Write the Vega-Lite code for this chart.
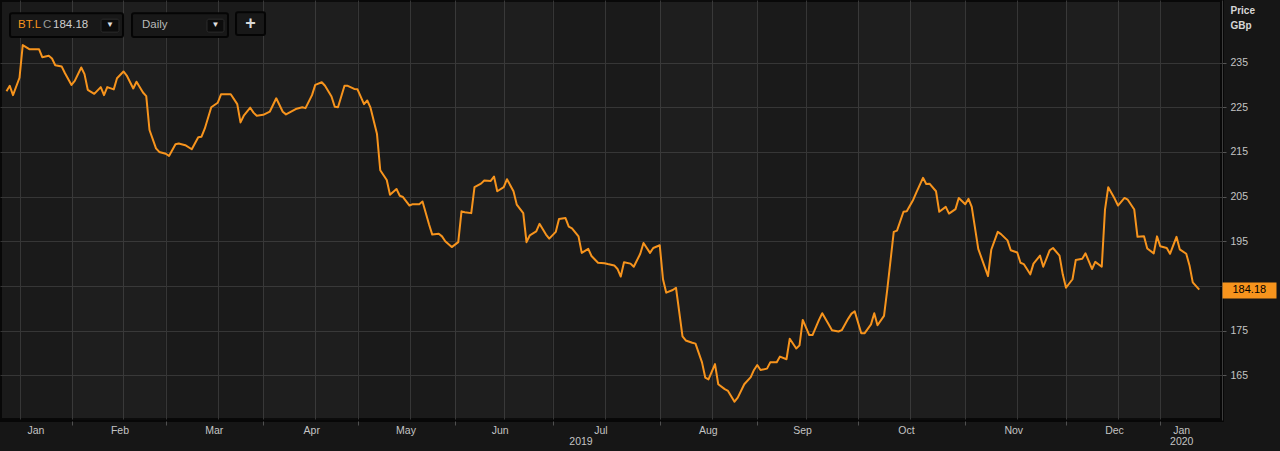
{
  "$schema": "https://vega.github.io/schema/vega-lite/v6.json",
  "width": 1280,
  "height": 451,
  "autosize": {"type": "fit", "contains": "padding"},
  "padding": {"left": 0, "top": 0, "bottom": 0, "right": -4},
  "background": "#161616",
  "config": {
    "view": {"fill": "#1a1a1a", "stroke": "#080808", "strokeWidth": 4},
    "font": "Liberation Sans"
  },
  "datasets": {
    "prices": [
      {"date": "2019-01-12", "close": 228.6}, {"date": "2019-01-13", "close": 229.8}, {"date": "2019-01-14", "close": 227.7},
      {"date": "2019-01-16", "close": 231.6}, {"date": "2019-01-17", "close": 238.9}, {"date": "2019-01-19", "close": 238.0},
      {"date": "2019-01-20", "close": 238.0}, {"date": "2019-01-22", "close": 238.0}, {"date": "2019-01-23", "close": 236.2},
      {"date": "2019-01-25", "close": 236.5}, {"date": "2019-01-26", "close": 235.9}, {"date": "2019-01-27", "close": 234.4},
      {"date": "2019-01-29", "close": 234.1}, {"date": "2019-01-30", "close": 232.6}, {"date": "2019-02-01", "close": 230.0},
      {"date": "2019-02-02", "close": 230.9}, {"date": "2019-02-04", "close": 233.9}, {"date": "2019-02-05", "close": 232.4},
      {"date": "2019-02-06", "close": 228.9}, {"date": "2019-02-08", "close": 228.0}, {"date": "2019-02-10", "close": 229.5},
      {"date": "2019-02-11", "close": 227.7}, {"date": "2019-02-12", "close": 229.5}, {"date": "2019-02-14", "close": 229.0},
      {"date": "2019-02-15", "close": 231.5}, {"date": "2019-02-17", "close": 233.0}, {"date": "2019-02-18", "close": 232.1},
      {"date": "2019-02-20", "close": 229.2}, {"date": "2019-02-21", "close": 230.7}, {"date": "2019-02-23", "close": 228.3},
      {"date": "2019-02-24", "close": 227.5}, {"date": "2019-02-25", "close": 219.9}, {"date": "2019-02-27", "close": 215.8},
      {"date": "2019-02-28", "close": 215.0}, {"date": "2019-03-02", "close": 214.6}, {"date": "2019-03-03", "close": 214.1},
      {"date": "2019-03-05", "close": 216.7}, {"date": "2019-03-06", "close": 216.9}, {"date": "2019-03-08", "close": 216.5},
      {"date": "2019-03-10", "close": 215.6}, {"date": "2019-03-12", "close": 218.3}, {"date": "2019-03-13", "close": 218.4},
      {"date": "2019-03-14", "close": 220.2}, {"date": "2019-03-16", "close": 225.0}, {"date": "2019-03-18", "close": 226.0},
      {"date": "2019-03-19", "close": 227.9}, {"date": "2019-03-20", "close": 227.9}, {"date": "2019-03-22", "close": 227.9},
      {"date": "2019-03-24", "close": 225.7}, {"date": "2019-03-25", "close": 221.6}, {"date": "2019-03-26", "close": 223.1},
      {"date": "2019-03-28", "close": 224.9}, {"date": "2019-03-29", "close": 223.8}, {"date": "2019-03-30", "close": 223.1},
      {"date": "2019-04-01", "close": 223.3}, {"date": "2019-04-03", "close": 224.0}, {"date": "2019-04-04", "close": 225.5},
      {"date": "2019-04-05", "close": 227.0}, {"date": "2019-04-07", "close": 224.0}, {"date": "2019-04-08", "close": 223.4},
      {"date": "2019-04-10", "close": 224.2}, {"date": "2019-04-11", "close": 224.6}, {"date": "2019-04-13", "close": 225.0},
      {"date": "2019-04-14", "close": 224.8}, {"date": "2019-04-16", "close": 227.7}, {"date": "2019-04-17", "close": 230.0},
      {"date": "2019-04-19", "close": 230.6}, {"date": "2019-04-20", "close": 229.8}, {"date": "2019-04-22", "close": 227.4},
      {"date": "2019-04-23", "close": 225.1}, {"date": "2019-04-24", "close": 225.0}, {"date": "2019-04-26", "close": 229.8},
      {"date": "2019-04-27", "close": 229.8}, {"date": "2019-04-29", "close": 229.1}, {"date": "2019-04-30", "close": 229.0},
      {"date": "2019-05-02", "close": 225.7}, {"date": "2019-05-03", "close": 226.5}, {"date": "2019-05-04", "close": 224.9},
      {"date": "2019-05-06", "close": 219.0}, {"date": "2019-05-07", "close": 210.9}, {"date": "2019-05-09", "close": 208.7},
      {"date": "2019-05-10", "close": 205.4}, {"date": "2019-05-12", "close": 206.7}, {"date": "2019-05-13", "close": 205.2},
      {"date": "2019-05-14", "close": 204.9}, {"date": "2019-05-16", "close": 203.0}, {"date": "2019-05-17", "close": 203.3},
      {"date": "2019-05-19", "close": 203.3}, {"date": "2019-05-20", "close": 203.9}, {"date": "2019-05-22", "close": 198.8},
      {"date": "2019-05-23", "close": 196.5}, {"date": "2019-05-25", "close": 196.7}, {"date": "2019-05-26", "close": 196.1},
      {"date": "2019-05-27", "close": 195.0}, {"date": "2019-05-29", "close": 193.7}, {"date": "2019-05-31", "close": 194.8},
      {"date": "2019-06-01", "close": 201.7}, {"date": "2019-06-02", "close": 201.5}, {"date": "2019-06-04", "close": 201.3},
      {"date": "2019-06-05", "close": 207.1}, {"date": "2019-06-07", "close": 207.9}, {"date": "2019-06-08", "close": 208.6},
      {"date": "2019-06-10", "close": 208.5}, {"date": "2019-06-11", "close": 209.5}, {"date": "2019-06-12", "close": 206.2},
      {"date": "2019-06-14", "close": 207.1}, {"date": "2019-06-15", "close": 208.9}, {"date": "2019-06-17", "close": 206.2},
      {"date": "2019-06-18", "close": 203.2}, {"date": "2019-06-20", "close": 201.3}, {"date": "2019-06-21", "close": 194.8},
      {"date": "2019-06-22", "close": 196.3}, {"date": "2019-06-24", "close": 197.2}, {"date": "2019-06-25", "close": 198.9},
      {"date": "2019-06-27", "close": 196.5}, {"date": "2019-06-28", "close": 195.6}, {"date": "2019-06-30", "close": 197.1},
      {"date": "2019-07-01", "close": 200.0}, {"date": "2019-07-03", "close": 200.2}, {"date": "2019-07-04", "close": 198.3},
      {"date": "2019-07-05", "close": 197.9}, {"date": "2019-07-07", "close": 196.1}, {"date": "2019-07-08", "close": 192.4},
      {"date": "2019-07-10", "close": 193.3}, {"date": "2019-07-11", "close": 191.7}, {"date": "2019-07-13", "close": 190.2},
      {"date": "2019-07-15", "close": 190.1}, {"date": "2019-07-16", "close": 189.9}, {"date": "2019-07-18", "close": 189.6},
      {"date": "2019-07-19", "close": 188.8}, {"date": "2019-07-20", "close": 187.1}, {"date": "2019-07-21", "close": 190.3},
      {"date": "2019-07-23", "close": 190.0}, {"date": "2019-07-24", "close": 189.3}, {"date": "2019-07-26", "close": 192.2},
      {"date": "2019-07-27", "close": 194.6}, {"date": "2019-07-29", "close": 192.4}, {"date": "2019-07-30", "close": 193.5},
      {"date": "2019-08-01", "close": 194.1}, {"date": "2019-08-02", "close": 186.5}, {"date": "2019-08-03", "close": 183.5},
      {"date": "2019-08-05", "close": 184.1}, {"date": "2019-08-06", "close": 184.6}, {"date": "2019-08-08", "close": 173.7},
      {"date": "2019-08-09", "close": 172.8}, {"date": "2019-08-11", "close": 172.3}, {"date": "2019-08-12", "close": 172.1},
      {"date": "2019-08-14", "close": 167.9}, {"date": "2019-08-15", "close": 164.5}, {"date": "2019-08-16", "close": 164.1},
      {"date": "2019-08-18", "close": 167.5}, {"date": "2019-08-19", "close": 163.0}, {"date": "2019-08-21", "close": 161.9},
      {"date": "2019-08-22", "close": 161.5}, {"date": "2019-08-24", "close": 159.1}, {"date": "2019-08-25", "close": 160.0},
      {"date": "2019-08-27", "close": 163.0}, {"date": "2019-08-29", "close": 164.6}, {"date": "2019-08-30", "close": 166.2},
      {"date": "2019-08-31", "close": 167.3}, {"date": "2019-09-01", "close": 166.2}, {"date": "2019-09-03", "close": 166.5},
      {"date": "2019-09-04", "close": 167.9}, {"date": "2019-09-06", "close": 167.9}, {"date": "2019-09-07", "close": 169.2},
      {"date": "2019-09-09", "close": 168.6}, {"date": "2019-09-10", "close": 173.2}, {"date": "2019-09-12", "close": 171.0},
      {"date": "2019-09-13", "close": 171.7}, {"date": "2019-09-14", "close": 177.4}, {"date": "2019-09-16", "close": 174.0},
      {"date": "2019-09-17", "close": 174.0}, {"date": "2019-09-19", "close": 177.4}, {"date": "2019-09-20", "close": 178.9},
      {"date": "2019-09-22", "close": 176.4}, {"date": "2019-09-23", "close": 175.1}, {"date": "2019-09-25", "close": 174.8},
      {"date": "2019-09-26", "close": 175.1}, {"date": "2019-09-28", "close": 177.7}, {"date": "2019-09-29", "close": 178.8},
      {"date": "2019-09-30", "close": 179.3}, {"date": "2019-10-02", "close": 174.4}, {"date": "2019-10-03", "close": 174.4},
      {"date": "2019-10-05", "close": 176.4}, {"date": "2019-10-06", "close": 178.9}, {"date": "2019-10-07", "close": 176.2},
      {"date": "2019-10-09", "close": 178.3}, {"date": "2019-10-10", "close": 184.2}, {"date": "2019-10-12", "close": 197.1},
      {"date": "2019-10-13", "close": 197.4}, {"date": "2019-10-15", "close": 201.6}, {"date": "2019-10-16", "close": 201.7},
      {"date": "2019-10-18", "close": 204.3}, {"date": "2019-10-19", "close": 206.0}, {"date": "2019-10-21", "close": 209.2},
      {"date": "2019-10-22", "close": 207.8}, {"date": "2019-10-23", "close": 207.9}, {"date": "2019-10-25", "close": 206.2},
      {"date": "2019-10-26", "close": 201.6}, {"date": "2019-10-28", "close": 202.7}, {"date": "2019-10-29", "close": 201.2},
      {"date": "2019-10-31", "close": 202.2}, {"date": "2019-11-01", "close": 204.7}, {"date": "2019-11-03", "close": 203.3},
      {"date": "2019-11-04", "close": 204.5}, {"date": "2019-11-05", "close": 202.7}, {"date": "2019-11-07", "close": 193.3},
      {"date": "2019-11-10", "close": 187.2}, {"date": "2019-11-11", "close": 193.1}, {"date": "2019-11-13", "close": 197.1},
      {"date": "2019-11-14", "close": 196.6}, {"date": "2019-11-16", "close": 195.2}, {"date": "2019-11-17", "close": 193.0},
      {"date": "2019-11-19", "close": 192.5}, {"date": "2019-11-20", "close": 190.2}, {"date": "2019-11-21", "close": 189.9},
      {"date": "2019-11-23", "close": 187.6}, {"date": "2019-11-24", "close": 190.0}, {"date": "2019-11-26", "close": 191.8},
      {"date": "2019-11-27", "close": 189.3}, {"date": "2019-11-29", "close": 193.0}, {"date": "2019-11-30", "close": 193.5},
      {"date": "2019-12-02", "close": 191.8}, {"date": "2019-12-03", "close": 187.6}, {"date": "2019-12-04", "close": 184.6},
      {"date": "2019-12-06", "close": 186.5}, {"date": "2019-12-07", "close": 190.8}, {"date": "2019-12-09", "close": 191.1},
      {"date": "2019-12-10", "close": 192.3}, {"date": "2019-12-12", "close": 188.8}, {"date": "2019-12-13", "close": 190.4},
      {"date": "2019-12-15", "close": 189.3}, {"date": "2019-12-16", "close": 202.1}, {"date": "2019-12-17", "close": 207.1},
      {"date": "2019-12-19", "close": 204.5}, {"date": "2019-12-20", "close": 203.0}, {"date": "2019-12-22", "close": 204.7},
      {"date": "2019-12-23", "close": 204.3}, {"date": "2019-12-25", "close": 202.1}, {"date": "2019-12-26", "close": 196.0},
      {"date": "2019-12-28", "close": 196.1}, {"date": "2019-12-29", "close": 193.4}, {"date": "2019-12-31", "close": 192.3},
      {"date": "2020-01-01", "close": 196.1}, {"date": "2020-01-02", "close": 193.9}, {"date": "2020-01-04", "close": 193.5},
      {"date": "2020-01-05", "close": 192.2}, {"date": "2020-01-07", "close": 196.0}, {"date": "2020-01-08", "close": 193.2},
      {"date": "2020-01-10", "close": 192.2}, {"date": "2020-01-11", "close": 189.6}, {"date": "2020-01-12", "close": 185.8},
      {"date": "2020-01-14", "close": 184.18}
    ],
    "last": [{"date": "2020-01-14", "close": 184.18}],
    "bands": [
      {"from": "2019-02-01", "to": "2019-03-02"},
      {"from": "2019-04-01", "to": "2019-04-30"},
      {"from": "2019-05-30", "to": "2019-06-29"},
      {"from": "2019-08-01", "to": "2019-08-31"},
      {"from": "2019-10-01", "to": "2019-11-03"},
      {"from": "2019-12-04", "to": "2020-01-02"}
    ],
    "widgets": [
      {"start": "2019-01-13T02:00:00Z", "end": "2019-02-16T20:24:00Z", "top": 246.05, "bottom": 240.7},
      {"start": "2019-02-19T14:50:00Z", "end": "2019-03-21T03:40:00Z", "top": 246.05, "bottom": 240.7},
      {"start": "2019-03-23T14:50:00Z", "end": "2019-04-01T13:00:00Z", "top": 246.27, "bottom": 241.14}
    ],
    "buttons": [
      {"start": "2019-02-10T02:00:00Z", "end": "2019-02-15T14:50:00Z", "top": 244.71, "bottom": 241.81},
      {"start": "2019-03-14T16:40:00Z", "end": "2019-03-19T22:10:00Z", "top": 244.71, "bottom": 241.81}
    ],
    "headerText": [
      {"label": "BT.L", "at": "2019-01-15T13:00:00Z", "level": 243.37},
      {"label": "C", "at": "2019-01-23T05:30:00Z", "level": 243.37},
      {"label": "184.18", "at": "2019-01-26T07:30:00Z", "level": 243.37},
      {"label": "Daily", "at": "2019-02-22T16:30:00Z", "level": 243.37}
    ],
    "arrows": [
      {"label": "▼", "at": "2019-02-12T20:20:00Z", "level": 243.3},
      {"label": "▼", "at": "2019-03-17T07:30:00Z", "level": 243.3}
    ],
    "plus": [
      {"label": "+", "at": "2019-03-28T02:00:00Z", "level": 243.7}
    ]
  },
  "layer": [
    {
      "data": {"name": "bands"},
      "mark": {"type": "rect", "fill": "#ffffff", "opacity": 0.018},
      "encoding": {
        "x": {"field": "from", "type": "temporal", "scale": {"type": "utc", "domain": [{"year": 2019, "month": 1, "date": 10, "utc": true}, {"year": 2020, "month": 1, "date": 21, "utc": true}]}},
        "x2": {"field": "to"}
      }
    },
    {
      "data": {"name": "prices"},
      "mark": {"type": "line", "color": "#f7941d", "strokeWidth": 2, "strokeJoin": "round"},
      "encoding": {
        "x": {
          "field": "date", "type": "temporal",
          "scale": {"type": "utc", "domain": [{"year": 2019, "month": 1, "date": 10, "utc": true}, {"year": 2020, "month": 1, "date": 21, "utc": true}]},
          "axis": {
            "title": null,
            "values": [
              {"year": 2019, "month": 1, "date": 16, "utc": true},
              {"year": 2019, "month": 2, "date": 1, "utc": true},
              {"year": 2019, "month": 2, "date": 17, "utc": true},
              {"year": 2019, "month": 3, "date": 2, "utc": true},
              {"year": 2019, "month": 3, "date": 18, "utc": true},
              {"year": 2019, "month": 4, "date": 1, "utc": true},
              {"year": 2019, "month": 4, "date": 17, "utc": true},
              {"year": 2019, "month": 4, "date": 30, "utc": true},
              {"year": 2019, "month": 5, "date": 16, "utc": true},
              {"year": 2019, "month": 5, "date": 30, "utc": true},
              {"year": 2019, "month": 6, "date": 14, "utc": true},
              {"year": 2019, "month": 6, "date": 29, "utc": true},
              {"year": 2019, "month": 7, "date": 15, "utc": true},
              {"year": 2019, "month": 8, "date": 1, "utc": true},
              {"year": 2019, "month": 8, "date": 17, "utc": true},
              {"year": 2019, "month": 8, "date": 31, "utc": true},
              {"year": 2019, "month": 9, "date": 15, "utc": true},
              {"year": 2019, "month": 10, "date": 1, "utc": true},
              {"year": 2019, "month": 10, "date": 17, "utc": true},
              {"year": 2019, "month": 11, "date": 3, "utc": true},
              {"year": 2019, "month": 11, "date": 19, "utc": true},
              {"year": 2019, "month": 12, "date": 4, "utc": true},
              {"year": 2019, "month": 12, "date": 20, "utc": true},
              {"year": 2020, "month": 1, "date": 2, "utc": true}
            ],
            "grid": true, "gridColor": "#363636", "gridWidth": 1,
            "domain": true, "domainColor": "#070707", "domainWidth": 2,
            "ticks": true, "tickSize": 5, "tickColor": "#505050",
            "tickOpacity": {"condition": {"test": "utcdate(datum.value) > 10 && utcdate(datum.value) < 25", "value": 0}, "value": 1},
            "labelExpr": "utcdate(datum.value) > 10 && utcdate(datum.value) < 25 ? utcFormat(datum.value, '%b') : (utcyear(datum.value) == 2020 ? ['Jan', '2020'] : (utcmonth(datum.value) == 5 ? ['', '2019'] : ''))",
            "labelOffset": {"condition": [
              {"test": "utcyear(datum.value) == 2019 && utcmonth(datum.value) == 0", "value": 16},
              {"test": "utcyear(datum.value) == 2020", "value": 21},
              {"test": "utcmonth(datum.value) == 5 && utcdate(datum.value) > 25", "value": 28}
            ], "value": -4},
            "labelColor": "#c4c4c4", "labelFontSize": 10.5, "labelLineHeight": 11,
            "labelPadding": 0, "labelFlush": false, "labelOverlap": false, "labelBound": false,
            "minExtent": 31
          }
        },
        "y": {
          "field": "close", "type": "quantitative",
          "scale": {"domain": [155, 249], "zero": false, "nice": false},
          "axis": {
            "orient": "right",
            "values": [165, 175, 185, 195, 205, 215, 225, 235],
            "grid": true, "gridColor": "#363636", "gridWidth": 1,
            "domain": true, "domainColor": "#3c3c3c",
            "tickSize": 4, "tickColor": "#555555",
            "labelPadding": 4, "labelColor": "#c4c4c4", "labelFontSize": 10.5,
            "labelExpr": "datum.value == 185 ? '' : datum.label",
            "title": ["Price", "GBp"],
            "titleAngle": 0, "titleX": 8, "titleY": 5, "titleAlign": "left", "titleBaseline": "top",
            "titleFontSize": 10, "titleFontWeight": "bold", "titleColor": "#d6d6d6", "titleLineHeight": 15
          }
        }
      }
    },
    {
      "data": {"name": "last"},
      "mark": {"type": "point", "opacity": 0},
      "encoding": {
        "y": {
          "field": "close", "type": "quantitative",
          "scale": {"domain": [155, 249], "zero": false, "nice": false},
          "axis": {
            "orient": "right", "values": [184.18], "format": ".2f", "title": null,
            "grid": false, "domain": false,
            "tickSize": 54, "tickWidth": 16, "tickColor": "#f7941d", "tickCap": "butt",
            "labelColor": "#000000", "labelFontSize": 11, "labelPadding": -44,
            "labelAlign": "left", "labelBaseline": "middle", "labelBound": false, "labelOverlap": false,
            "zindex": 1
          }
        }
      }
    },
    {
      "data": {"name": "widgets"},
      "mark": {"type": "rect", "fill": "#181818", "stroke": "#050505", "strokeWidth": 2, "cornerRadius": 2},
      "encoding": {
        "x": {"field": "start", "type": "temporal", "scale": {"type": "utc", "domain": [{"year": 2019, "month": 1, "date": 10, "utc": true}, {"year": 2020, "month": 1, "date": 21, "utc": true}]}},
        "x2": {"field": "end"},
        "y": {"field": "top", "type": "quantitative", "scale": {"domain": [155, 249], "zero": false, "nice": false}, "axis": null},
        "y2": {"field": "bottom"}
      }
    },
    {
      "data": {"name": "buttons"},
      "mark": {"type": "rect", "fill": "#0c0c0c", "stroke": "#2c2c2c", "strokeWidth": 1, "cornerRadius": 2},
      "encoding": {
        "x": {"field": "start", "type": "temporal", "scale": {"type": "utc", "domain": [{"year": 2019, "month": 1, "date": 10, "utc": true}, {"year": 2020, "month": 1, "date": 21, "utc": true}]}},
        "x2": {"field": "end"},
        "y": {"field": "top", "type": "quantitative", "scale": {"domain": [155, 249], "zero": false, "nice": false}, "axis": null},
        "y2": {"field": "bottom"}
      }
    },
    {
      "data": {"name": "headerText"},
      "mark": {"type": "text", "align": "left", "baseline": "middle", "fontSize": 11.5},
      "encoding": {
        "x": {"field": "at", "type": "temporal", "scale": {"type": "utc", "domain": [{"year": 2019, "month": 1, "date": 10, "utc": true}, {"year": 2020, "month": 1, "date": 21, "utc": true}]}},
        "y": {"field": "level", "type": "quantitative", "scale": {"domain": [155, 249], "zero": false, "nice": false}, "axis": null},
        "text": {"field": "label"},
        "color": {"field": "label", "type": "nominal", "legend": null,
          "scale": {"domain": ["BT.L", "C", "184.18", "Daily"], "range": ["#f7941d", "#9a9a9a", "#cfcfcf", "#b8b8b8"]}}
      }
    },
    {
      "data": {"name": "arrows"},
      "mark": {"type": "text", "align": "center", "baseline": "middle", "fontSize": 8, "color": "#e0e0e0"},
      "encoding": {
        "x": {"field": "at", "type": "temporal", "scale": {"type": "utc", "domain": [{"year": 2019, "month": 1, "date": 10, "utc": true}, {"year": 2020, "month": 1, "date": 21, "utc": true}]}},
        "y": {"field": "level", "type": "quantitative", "scale": {"domain": [155, 249], "zero": false, "nice": false}, "axis": null},
        "text": {"field": "label"}
      }
    },
    {
      "data": {"name": "plus"},
      "mark": {"type": "text", "align": "center", "baseline": "middle", "fontSize": 18, "fontWeight": "bold", "color": "#d8d8d8"},
      "encoding": {
        "x": {"field": "at", "type": "temporal", "scale": {"type": "utc", "domain": [{"year": 2019, "month": 1, "date": 10, "utc": true}, {"year": 2020, "month": 1, "date": 21, "utc": true}]}},
        "y": {"field": "level", "type": "quantitative", "scale": {"domain": [155, 249], "zero": false, "nice": false}, "axis": null},
        "text": {"field": "label"}
      }
    }
  ],
  "resolve": {"axis": {"y": "independent"}}
}
